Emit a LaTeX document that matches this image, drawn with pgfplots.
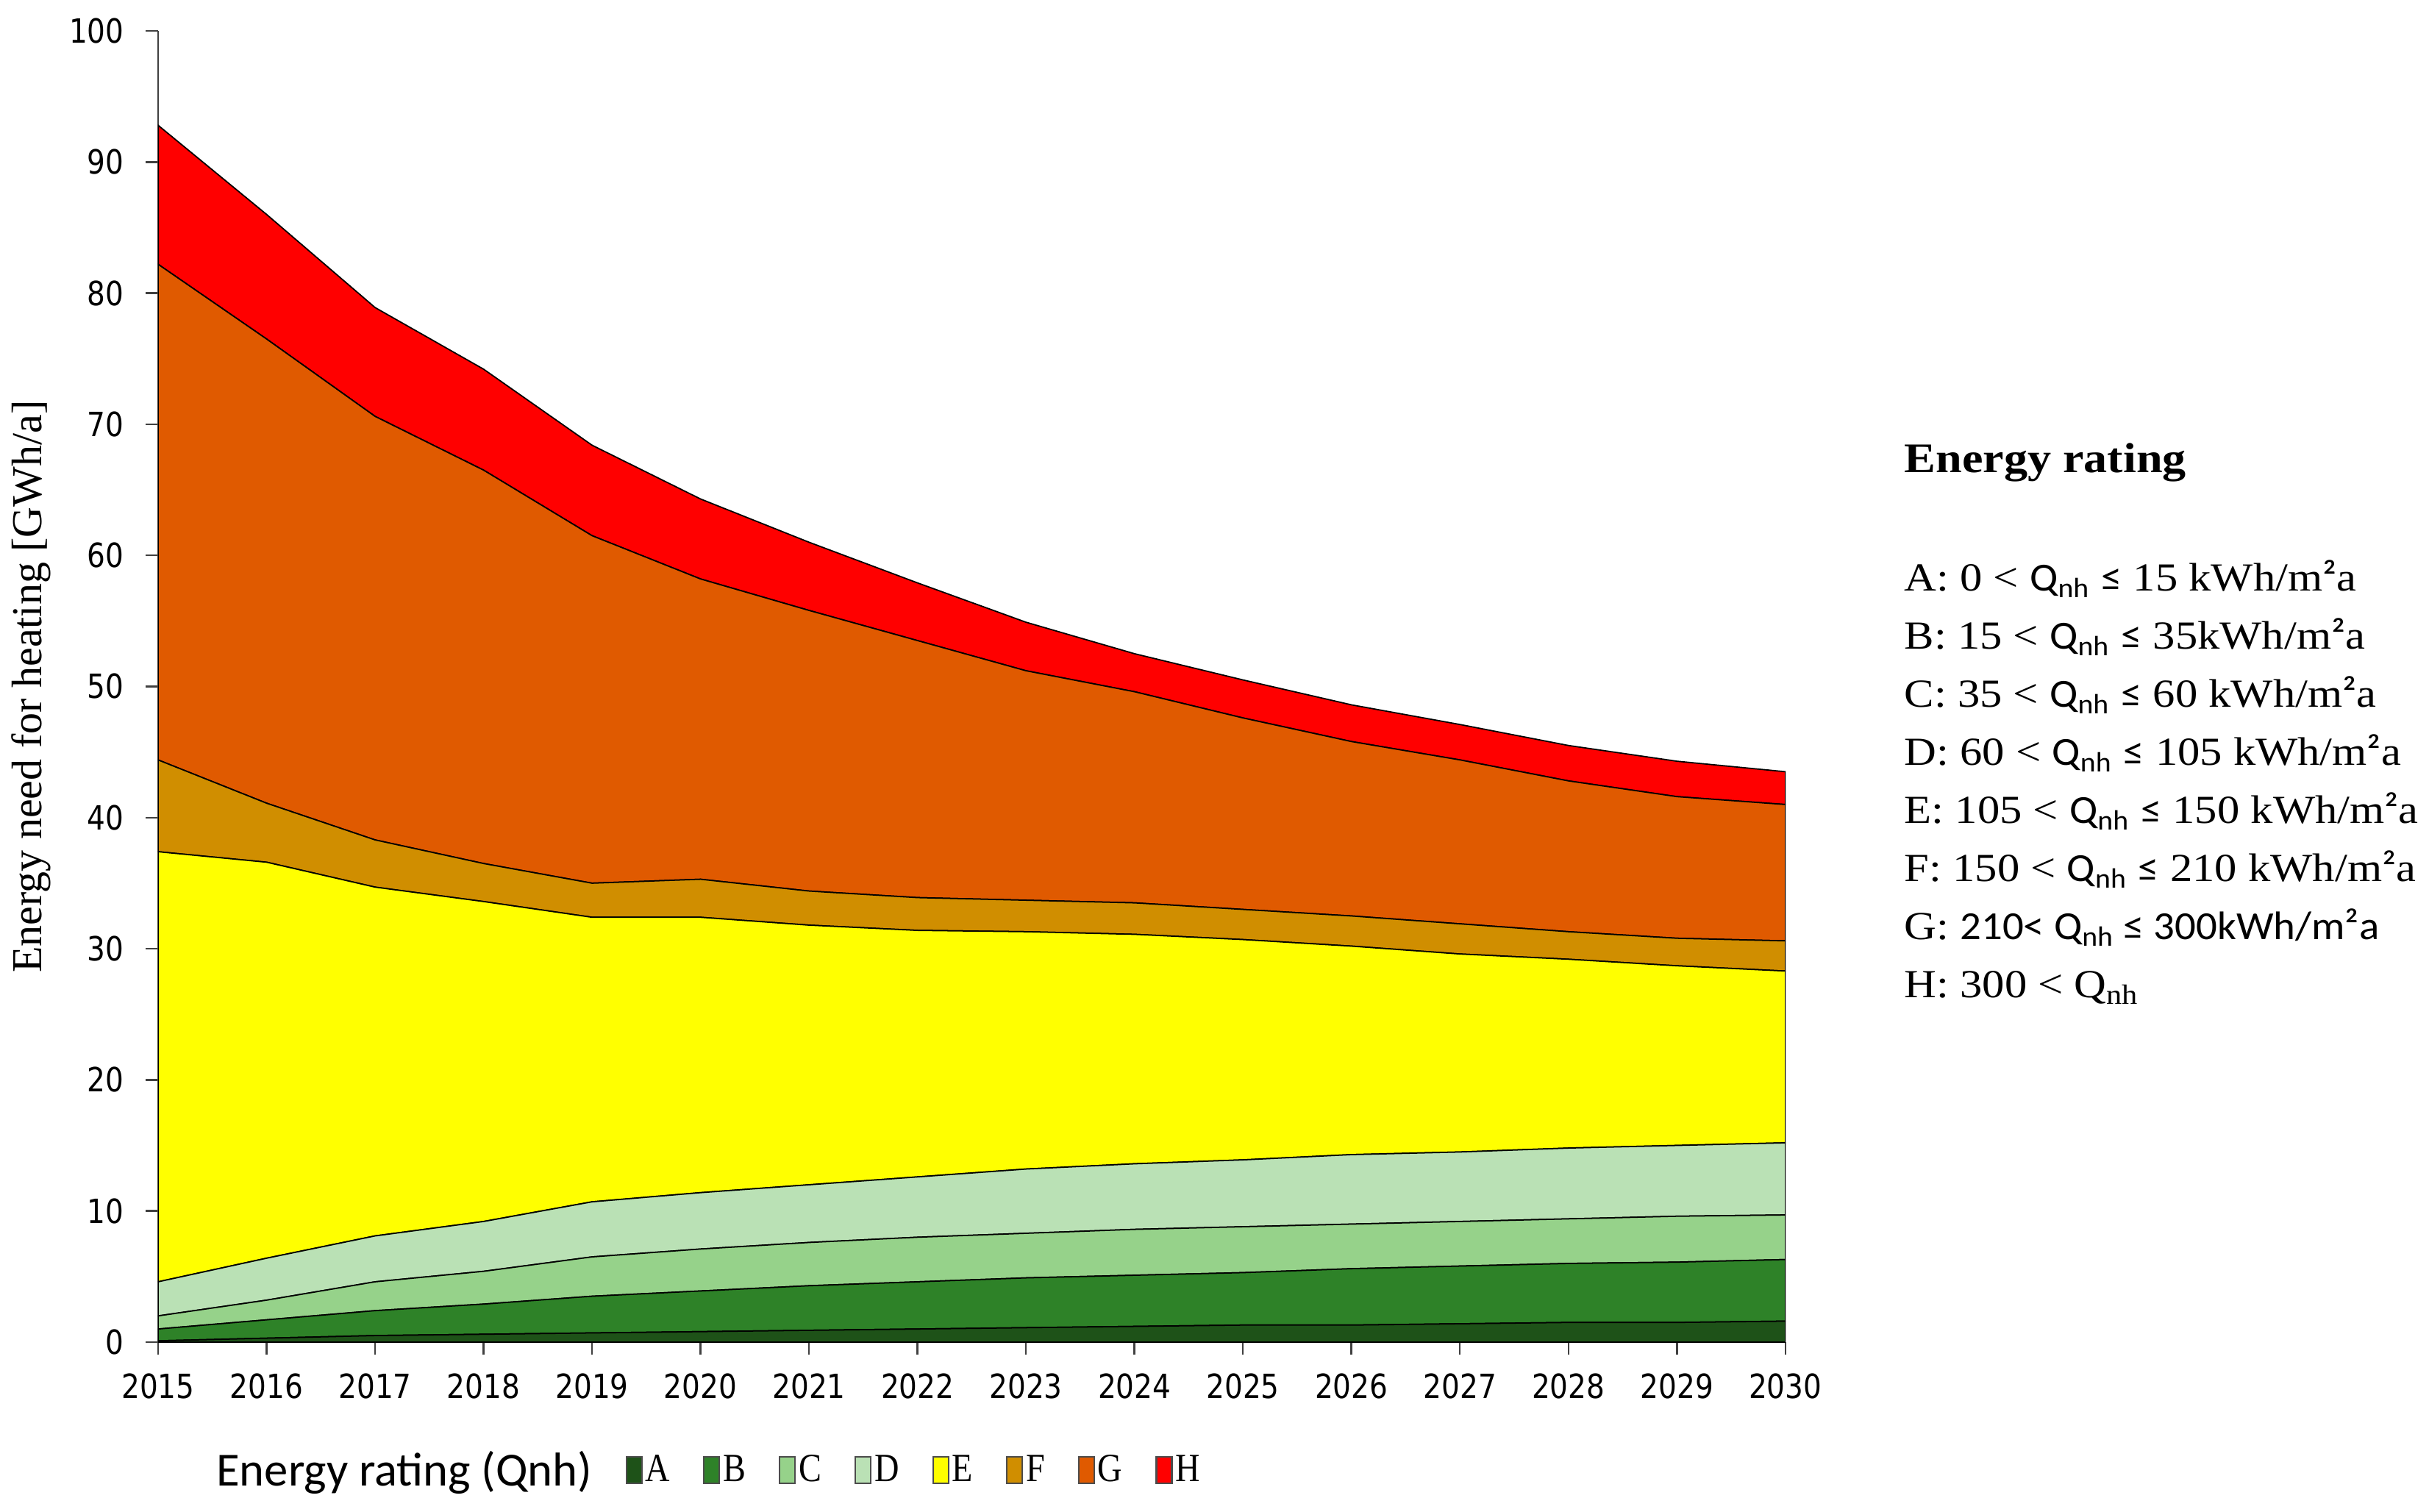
\documentclass[border=0pt]{standalone}
\usepackage{fontspec}
\setmainfont{Liberation Serif}
\newfontfamily\carl{Carlito}
\newfontfamily\tickfont[FakeStretch=0.86]{DejaVu Sans}
\newfontfamily\legletter[FakeStretch=0.85]{Liberation Serif}
\newfontfamily\rser[FakeStretch=1.12]{Liberation Serif}
\newfontfamily\rsans[FakeStretch=1.05]{Carlito}
\usepackage{pgfplots}
\usepackage{pgfplotstable}
\pgfplotsset{compat=1.18}
\definecolor{cA}{RGB}{30,82,24}
\definecolor{cB}{RGB}{46,130,40}
\definecolor{cC}{RGB}{150,210,138}
\definecolor{cD}{RGB}{186,225,181}
\definecolor{cE}{RGB}{255,255,0}
\definecolor{cF}{RGB}{208,142,0}
\definecolor{cG}{RGB}{224,90,0}
\definecolor{cH}{RGB}{255,0,0}
\pgfplotstableread{
year A B C D E F G H
2015 0.1 0.9 1.0 2.6 32.8 7.0 37.8 10.6
2016 0.3 1.4 1.5 3.2 30.2 4.5 35.4 9.5
2017 0.5 1.9 2.2 3.5 26.6 3.6 32.3 8.3
2018 0.6 2.3 2.5 3.8 24.4 2.9 30.0 7.7
2019 0.7 2.8 3.0 4.2 21.7 2.6 26.5 6.9
2020 0.8 3.1 3.2 4.3 21.0 2.9 22.9 6.1
2021 0.9 3.4 3.3 4.4 19.8 2.6 21.4 5.2
2022 1.0 3.6 3.4 4.6 18.8 2.5 19.6 4.4
2023 1.1 3.8 3.4 4.9 18.1 2.4 17.5 3.7
2024 1.2 3.9 3.5 5.0 17.5 2.4 16.1 2.9
2025 1.3 4.0 3.5 5.1 16.8 2.3 14.6 2.9
2026 1.3 4.3 3.4 5.3 15.9 2.3 13.3 2.8
2027 1.4 4.4 3.4 5.3 15.1 2.3 12.5 2.7
2028 1.5 4.5 3.4 5.4 14.4 2.1 11.5 2.7
2029 1.5 4.6 3.5 5.4 13.7 2.1 10.8 2.7
2030 1.6 4.7 3.4 5.5 13.1 2.3 10.4 2.5
}\data
\newcommand\Qnh{{\rsans Q\textsubscript{nh}}}
\newcommand\lee{{\rsans ≤}}
\begin{document}
\begin{tikzpicture}
\useasboundingbox (-21.5mm,-23.1mm) rectangle (308.8mm,182.5mm);
\begin{axis}[
  at={(0,0)}, anchor=south west,
  scale only axis, width=221.3mm, height=178.3mm,
  xmin=2015, xmax=2030, ymin=0, ymax=100,
  axis x line*=bottom, axis y line*=left,
  axis line style={-, black!75, line width=0.7pt},
  xtick={2015,...,2030}, ytick={0,10,...,100},
  tick align=outside, major tick length=1.7mm,
  tick style={black!75, line width=0.7pt},
  /pgf/number format/1000 sep={},
  /pgf/number format/assume math mode=true,
  xticklabel style={font=\tickfont\fontsize{12.9}{14}\selectfont, yshift=-1.3mm},
  yticklabel style={font=\tickfont\fontsize{12.9}{14}\selectfont, xshift=-1.7mm},
  ylabel={Energy need for heating [GWh/a]},
  every axis y label/.style={at={(axis description cs:-0.078,0.5)}, rotate=90, anchor=center, font=\fontsize{16.5}{18}\selectfont},
  stack plots=y,
  legend columns=-1,
  legend style={draw=none, fill=none, at={(axis description cs:0.029,-0.0976)}, anchor=west,
    font=\legletter\fontsize{15.5}{17}\selectfont,
    nodes={inner sep=0.4mm},
    /tikz/every even column/.append style={column sep=4.1mm}},
  legend image code/.code={\draw[#1, draw=black!70, line width=0.6pt] (0mm,-1.8mm) rectangle (2.1mm,1.8mm);},
  every axis plot/.append style={draw=black, line width=0.5pt},
]
\addlegendimage{empty legend}
\addlegendentry{{\carl\fontsize{18.4}{20}\selectfont Energy rating (Qnh)\hspace{0.6mm}}}
\addplot[fill=cA] table[x=year,y=A]{\data} \closedcycle;
\addlegendentry{A}
\addplot[fill=cB] table[x=year,y=B]{\data} \closedcycle;
\addlegendentry{B}
\addplot[fill=cC] table[x=year,y=C]{\data} \closedcycle;
\addlegendentry{C}
\addplot[fill=cD] table[x=year,y=D]{\data} \closedcycle;
\addlegendentry{D}
\addplot[fill=cE] table[x=year,y=E]{\data} \closedcycle;
\addlegendentry{E}
\addplot[fill=cF] table[x=year,y=F]{\data} \closedcycle;
\addlegendentry{F}
\addplot[fill=cG] table[x=year,y=G]{\data} \closedcycle;
\addlegendentry{G}
\addplot[fill=cH] table[x=year,y=H]{\data} \closedcycle;
\addlegendentry{H}
\end{axis}
\begin{scope}[every node/.style={anchor=base west, inner sep=0pt, font=\rser\fontsize{15.4}{17}\selectfont}]
\node[font=\rser\fontsize{16.3}{18}\selectfont\bfseries] at (237.4mm,118.2mm) {Energy rating};
\node at (237.4mm,102.1mm) {A: 0 < \Qnh\ \lee\ 15 kWh/m{\rsans ²}a};
\node at (237.4mm,94.2mm) {B: 15 < \Qnh\ \lee\ 35kWh/m{\rsans ²}a};
\node at (237.4mm,86.3mm) {C: 35 < \Qnh\ \lee\ 60 kWh/m{\rsans ²}a};
\node at (237.4mm,78.4mm) {D: 60 < \Qnh\ \lee\ 105 kWh/m{\rsans ²}a};
\node at (237.4mm,70.5mm) {E: 105 < \Qnh\ \lee\ 150 kWh/m{\rsans ²}a};
\node at (237.4mm,62.6mm) {F: 150 < \Qnh\ \lee\ 210 kWh/m{\rsans ²}a};
\node at (237.4mm,54.7mm) {G: {\rsans 210< Q\textsubscript{nh} ≤ 300kWh/m²a}};
\node at (237.4mm,46.8mm) {H: 300 < Q\textsubscript{nh}};
\end{scope}
\end{tikzpicture}
\end{document}
